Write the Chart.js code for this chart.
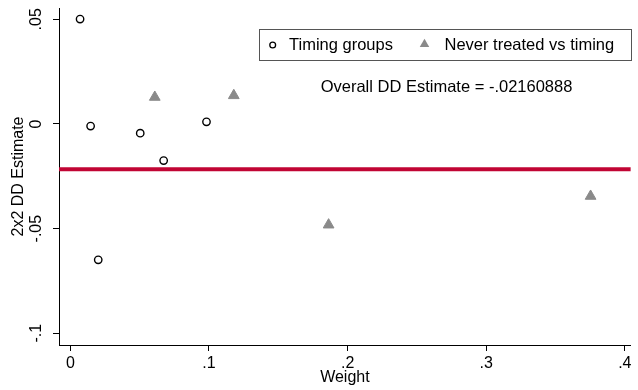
<!DOCTYPE html>
<html>
<head>
<meta charset="utf-8">
<script src="https://cdn.jsdelivr.net/npm/chart.js@4"></script>
<style>
  html, body { margin: 0; padding: 0; background: #fff; }
</style>
</head>
<body>
<canvas id="myChart" width="638" height="390"></canvas>
<script>
// values
const timingWeight   = [0.0070, 0.0146, 0.0201, 0.0504, 0.0673, 0.0982];
const timingEstimate = [0.0501, -0.0010, -0.0649, -0.0044, -0.0175, 0.0010];
const neverWeight    = [0.0609, 0.1179, 0.1863, 0.3753];
const neverEstimate  = [0.0128, 0.0136, -0.0482, -0.0345];
const overallEstimate = -0.02160888;
const seriesNames = ['Timing groups', 'Never treated vs timing'];

const xTickValues = [0, 0.1, 0.2, 0.3, 0.4];
const xTickLabels = ['0', '.1', '.2', '.3', '.4'];
const yTickValues = [-0.1, -0.05, 0, 0.05];
const yTickLabels = ['-.1', '-.05', '0', '.05'];
const xRange = [-0.0082, 0.4043];
const yRange = [-0.1056, 0.0554];

const FONT = "'Liberation Sans', Arial, Helvetica, sans-serif";
const GREY = '#8a8a8a';
const RED = '#c10534';

function toPoints(xs, ys) {
  return xs.map((x, i) => ({ x: x, y: ys[i] }));
}

// Stata style legend box + overall estimate note
const boxLegend = {
  id: 'boxLegend',
  afterDraw(chart) {
    const c = chart.ctx;
    c.save();
    c.strokeStyle = '#555';
    c.lineWidth = 1;
    c.strokeRect(259.5, 29.5, 372, 31);

    // circle marker
    c.beginPath();
    c.arc(272.7, 45, 2.9, 0, Math.PI * 2);
    c.strokeStyle = '#000';
    c.lineWidth = 1.3;
    c.stroke();

    // triangle marker
    const r = 5.5, tx = 424.5, ty = 44.3;
    c.beginPath();
    for (let k = 0; k < 3; k++) {
      const a = k * 2 * Math.PI / 3;
      const px = tx + Math.sin(a) * r, py = ty - Math.cos(a) * r;
      if (k === 0) c.moveTo(px, py); else c.lineTo(px, py);
    }
    c.closePath();
    c.fillStyle = GREY;
    c.fill();

    c.fillStyle = '#000';
    c.font = '16.5px ' + FONT;
    c.textBaseline = 'middle';
    c.textAlign = 'left';
    c.fillText(seriesNames[0], 289, 45.5);
    c.fillText(seriesNames[1], 444.5, 45.5);

    c.textAlign = 'center';
    c.fillText('Overall DD Estimate = ' + String(overallEstimate).replace('0.', '.'), 446.5, 87);
    c.restore();
  }
};

const ctx = document.getElementById('myChart').getContext('2d');
const config = {
  type: 'scatter',
  data: {
    datasets: [
      {
        label: seriesNames[0],
        data: toPoints(timingWeight, timingEstimate),
        pointStyle: 'circle',
        pointRadius: 3.7,
        pointBorderWidth: 1.4,
        pointBorderColor: '#000',
        pointBackgroundColor: 'rgba(0,0,0,0)',
        order: 1
      },
      {
        label: seriesNames[1],
        data: toPoints(neverWeight, neverEstimate),
        pointStyle: 'triangle',
        pointRadius: 6.2,
        pointBorderWidth: 1,
        pointBorderColor: GREY,
        pointBackgroundColor: GREY,
        order: 2
      },
      {
        label: 'Overall',
        type: 'line',
        data: [{ x: xRange[0], y: overallEstimate }, { x: xRange[1], y: overallEstimate }],
        borderColor: RED,
        borderWidth: 4,
        pointRadius: 0,
        fill: false,
        order: 3
      }
    ]
  },
  options: {
    responsive: false,
    animation: false,
    events: [],
    layout: { padding: { top: 8, right: 0, bottom: 0, left: 0 } },
    plugins: {
      legend: { display: false },
      tooltip: { enabled: false }
    },
    scales: {
      x: {
        type: 'linear',
        position: 'bottom',
        min: xRange[0],
        max: xRange[1],
        afterBuildTicks: s => { s.ticks = xTickValues.map(v => ({ value: v })); },
        afterFit: s => { s.height = 45; s.paddingLeft = 0; s.paddingRight = 0; },
        ticks: {
          autoSkip: false,
          maxRotation: 0,
          padding: 2.5,
          color: '#000',
          font: { family: FONT, size: 16 },
          callback: (v, i) => xTickLabels[i]
        },
        grid: { drawOnChartArea: false, drawTicks: true, tickLength: 6, tickColor: '#000', tickWidth: 1 },
        border: { color: '#000', width: 1 },
        title: {
          display: true,
          text: 'Weight',
          color: '#000',
          font: { family: FONT, size: 16 },
          padding: { top: 0, bottom: 2.6 }
        }
      },
      y: {
        type: 'linear',
        position: 'left',
        min: yRange[0],
        max: yRange[1],
        afterBuildTicks: s => { s.ticks = yTickValues.map(v => ({ value: v })); },
        afterFit: s => { s.width = 59; s.paddingTop = 0; s.paddingBottom = 0; },
        ticks: {
          autoSkip: false,
          minRotation: 90,
          maxRotation: 90,
          crossAlign: 'center',
          padding: 2.5,
          color: '#000',
          font: { family: FONT, size: 16 },
          callback: (v, i) => yTickLabels[i]
        },
        grid: { drawOnChartArea: false, drawTicks: true, tickLength: 6, tickColor: '#000', tickWidth: 1 },
        border: { color: '#000', width: 1 },
        title: {
          display: true,
          text: '2x2 DD Estimate',
          color: '#000',
          font: { family: FONT, size: 16 },
          padding: { top: 9.3, bottom: 0 }
        }
      }
    }
  },
  plugins: [boxLegend]
};

var myChart = new Chart(ctx, config);
</script>
</body>
</html>
